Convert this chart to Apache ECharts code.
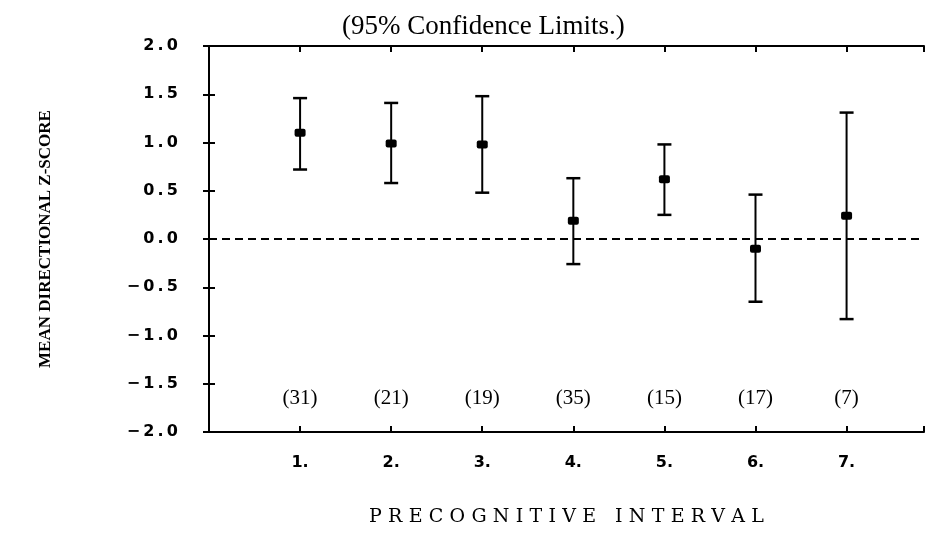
<!DOCTYPE html>
<html>
<head>
<meta charset="utf-8">
<script src="https://cdn.jsdelivr.net/npm/echarts@6/dist/echarts.min.js"></script>
<style>
  html, body { margin: 0; padding: 0; background: #fff; }
  #chart-container { width: 927px; height: 533px; }
</style>
</head>
<body>
<div id="chart-container"></div>
<script>
// precognitive interval 1..7, 95% confidence limits
const categories = [1, 2, 3, 4, 5, 6, 7]
const means = [1.10, 0.99, 0.98, 0.19, 0.62, -0.10, 0.24]
const upper = [1.46, 1.41, 1.48, 0.63, 0.98, 0.46, 1.31]
const lower = [0.72, 0.58, 0.48, -0.26, 0.25, -0.65, -0.83]
const counts = [31, 21, 19, 35, 15, 17, 7]
const countLabelY = -1.65

const minus = (v) => (v < 0 ? '\u2212\u2009' : '') + Math.abs(v).toFixed(1).replace('.', '\u2009.\u2009')
const spaced = (s) => s.split('').join('\u2004')

const renderItem = (params, api) => {
  const x = api.value(0)
  const hi = api.coord([x, api.value(1)])
  const lo = api.coord([x, api.value(2)])
  const m = api.coord([x, api.value(3)])
  const cap = 7
  const stroke = { stroke: '#000', lineWidth: 2 }
  return {
    type: 'group',
    children: [
      { type: 'line', shape: { x1: hi[0], y1: hi[1], x2: lo[0], y2: lo[1] }, style: stroke },
      { type: 'line', shape: { x1: hi[0] - cap, y1: hi[1], x2: hi[0] + cap, y2: hi[1] }, style: { stroke: '#000', lineWidth: 2.5 } },
      { type: 'line', shape: { x1: lo[0] - cap, y1: lo[1], x2: lo[0] + cap, y2: lo[1] }, style: { stroke: '#000', lineWidth: 2.5 } },
      { type: 'rect', shape: { x: m[0] - 5.5, y: m[1] - 4, width: 11, height: 8, r: 2 }, style: { fill: '#000' } }
    ]
  }
}

const axisLine = { show: true, onZero: false, lineStyle: { color: '#000', width: 2 } }
const axisTick = { show: true, inside: true, length: 6, lineStyle: { color: '#000', width: 2 } }

const option = {
  backgroundColor: '#fff',
  animation: false,
  title: {
    text: '(95% Confidence Limits.)',
    left: 337,
    top: 8,
    textStyle: { fontFamily: 'Liberation Serif', fontSize: 27, fontWeight: 'normal', color: '#000' }
  },
  grid: { left: 209, right: 0, top: 46, bottom: 101 },
  xAxis: [
    {
      type: 'value',
      min: 0,
      max: 7.85,
      interval: 1,
      name: spaced('PRECOGNITIVE') + '\u2003' + spaced('INTERVAL'),
      nameLocation: 'middle',
      nameGap: 76,
      nameTextStyle: { fontFamily: 'DejaVu Serif', fontSize: 19, color: '#000' },
      axisLine,
      axisTick,
      splitLine: { show: false },
      axisLabel: {
        margin: 23,
        color: '#000',
        fontFamily: 'DejaVu Sans',
        fontWeight: 'bold',
        fontSize: 16,
        formatter: (v) => (categories.includes(v) ? v + '.' : '')
      }
    },
    {
      type: 'value',
      position: 'top',
      min: 0,
      max: 7.85,
      interval: 1,
      axisLine,
      axisTick,
      axisLabel: { show: false },
      splitLine: { show: false }
    }
  ],
  yAxis: [
    {
      type: 'value',
      min: -2,
      max: 2,
      interval: 0.5,
      name: 'MEAN DIRECTIONAL Z-SCORE',
      nameLocation: 'middle',
      nameRotate: 90,
      nameGap: 155,
      nameTextStyle: { fontFamily: 'Liberation Serif', fontWeight: 'bold', fontSize: 17, color: '#000' },
      axisLine,
      axisTick,
      splitLine: { show: false },
      axisLabel: {
        margin: 31,
        color: '#000',
        fontFamily: 'DejaVu Sans',
        fontWeight: 'bold',
        fontSize: 16,
        formatter: minus
      }
    },
    {
      type: 'value',
      position: 'right',
      min: -2,
      max: 2,
      interval: 0.5,
      axisLine: { show: false },
      axisTick: { show: true, inside: true, length: 6, lineStyle: { color: '#000', width: 2 } },
      axisLabel: { show: false },
      splitLine: { show: false }
    }
  ],
  series: [
    {
      type: 'custom',
      renderItem,
      encode: { x: 0, y: [1, 2, 3] },
      data: categories.map((c, i) => [c, upper[i], lower[i], means[i]]),
      markLine: {
        silent: true,
        symbol: 'none',
        label: { show: false },
        lineStyle: { color: '#000', type: [8, 5], width: 2 },
        data: [{ yAxis: 0 }]
      },
      z: 3
    },
    {
      type: 'scatter',
      symbolSize: 0,
      itemStyle: { opacity: 1 },
      data: categories.map((c) => [c, countLabelY]),
      label: {
        show: true,
        position: 'inside',
        color: '#000',
        opacity: 1,
        fontFamily: 'Liberation Serif',
        fontSize: 21,
        formatter: (p) => '(' + counts[p.dataIndex] + ')'
      }
    }
  ]
}

const chart = echarts.init(document.getElementById('chart-container'), null, { renderer: 'canvas' })
chart.setOption(option)
window.addEventListener('resize', chart.resize)
</script>
</body>
</html>
